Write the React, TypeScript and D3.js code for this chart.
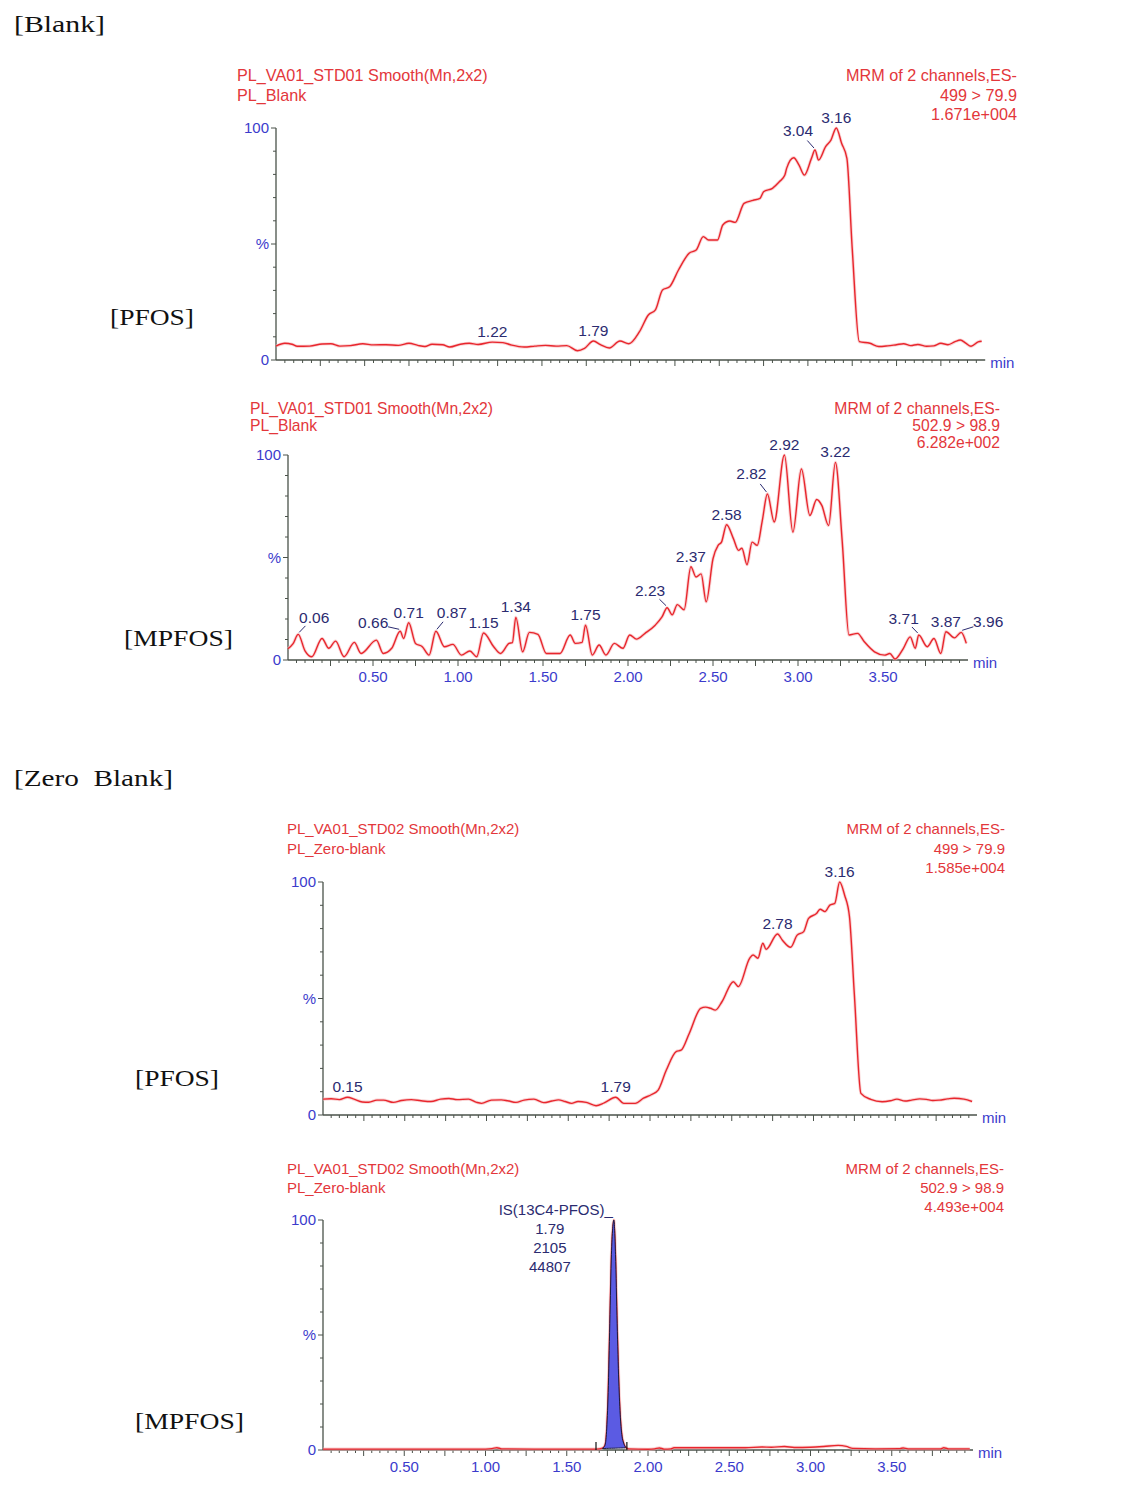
import React from 'react';
import * as d3 from 'd3';

// ---------------- DATA ----------------
// Blank / PFOS (499 > 79.9)
const P1_TIME = [0.00,0.05,0.09,0.12,0.19,0.26,0.31,0.36,0.42,0.49,0.55,0.62,0.69,0.75,0.80,0.84,0.88,0.94,0.98,1.04,1.09,1.14,1.22,1.28,1.33,1.40,1.46,1.52,1.58,1.64,1.70,1.74,1.79,1.83,1.88,1.94,1.99,2.05,2.10,2.14,2.18,2.22,2.27,2.33,2.37,2.41,2.44,2.49,2.52,2.56,2.59,2.64,2.69,2.73,2.75,2.80,2.84,2.87,2.88,2.92,2.95,2.98,3.02,3.04,3.06,3.10,3.13,3.16,3.19,3.22,3.25,3.29,3.35,3.40,3.45,3.50,3.54,3.58,3.62,3.67,3.71,3.75,3.79,3.83,3.86,3.89,3.92,3.96,3.98];
const P1_PCT = [6.0,7.2,6.8,5.9,6.0,6.9,7.0,6.0,6.2,7.0,6.5,6.6,6.3,7.2,6.3,5.8,6.8,6.6,5.6,6.8,7.2,6.7,7.7,7.5,6.4,5.6,6.0,6.3,6.0,6.2,4.0,5.0,8.2,6.6,5.2,8.2,7.0,12.2,19.4,21.6,30.2,31.6,38.8,46.0,47.4,53.2,51.7,51.7,58.2,59.9,59.3,67.5,68.8,69.7,72.5,74.0,76.9,79.7,82.6,87.2,84.0,79.7,86.9,90.5,86.2,92.0,94.8,100,93.4,86.9,48.0,7.9,7.2,5.8,6.1,6.6,7.0,6.2,6.7,5.9,6.1,7.2,6.6,7.9,8.6,7.3,5.9,7.8,8.1];

// Blank / MPFOS (502.9 > 98.9)
const P2_TIME = [0.00,0.03,0.06,0.10,0.14,0.20,0.24,0.28,0.33,0.39,0.43,0.52,0.56,0.61,0.66,0.68,0.71,0.75,0.79,0.83,0.87,0.92,0.97,1.02,1.07,1.11,1.15,1.21,1.25,1.30,1.32,1.34,1.38,1.42,1.47,1.52,1.60,1.66,1.69,1.73,1.75,1.79,1.83,1.87,1.92,1.97,2.01,2.05,2.10,2.16,2.20,2.23,2.26,2.29,2.33,2.37,2.40,2.43,2.46,2.50,2.53,2.55,2.58,2.62,2.65,2.67,2.70,2.73,2.76,2.79,2.82,2.86,2.92,2.97,3.02,3.07,3.11,3.14,3.18,3.22,3.26,3.30,3.35,3.39,3.45,3.51,3.54,3.57,3.62,3.66,3.69,3.71,3.76,3.80,3.84,3.87,3.92,3.96,3.99];
const P2_PCT = [5.5,8.0,12.5,4.5,1.6,10.5,5.7,9.2,1.6,8.6,3.2,9.7,3.2,5.7,14.0,10.5,18.2,8.1,6.5,2.4,14.0,6.5,7.6,2.4,4.4,1.6,13.2,6.5,3.2,8.1,8.5,20.8,4.0,13.5,12.5,3.2,3.2,12.2,8.1,8.6,17.0,2.4,7.3,2.4,8.1,5.7,12.2,10.2,13.0,17.0,21.0,25.5,22.0,27.0,24.5,45.5,40.5,42.0,28.4,49.4,55.9,57.5,66.0,59.2,53.5,54.5,46.5,57.5,55.9,68.0,81.0,67.3,100,62.4,93.2,70.5,78.3,75.4,65.6,96.4,58.0,12.2,13.0,8.9,4.0,2.4,3.2,0.5,5.7,11.3,5.7,12.2,6.5,10.5,3.2,13.8,10.8,13.5,8.1];

// Zero Blank / PFOS (499 > 79.9)
const P3_TIME = [0.00,0.05,0.10,0.15,0.19,0.24,0.28,0.33,0.37,0.43,0.48,0.54,0.60,0.66,0.72,0.77,0.82,0.89,0.94,0.97,1.03,1.09,1.13,1.18,1.23,1.29,1.35,1.40,1.44,1.48,1.52,1.56,1.61,1.67,1.72,1.79,1.84,1.91,1.96,2.01,2.05,2.10,2.16,2.19,2.24,2.31,2.34,2.37,2.40,2.44,2.51,2.54,2.61,2.63,2.66,2.69,2.71,2.78,2.81,2.86,2.90,2.94,2.97,3.02,3.04,3.07,3.10,3.13,3.16,3.19,3.22,3.25,3.29,3.35,3.42,3.47,3.51,3.56,3.60,3.65,3.69,3.73,3.77,3.82,3.86,3.92,3.97];
const P3_PCT = [6.8,7.0,6.6,7.6,6.8,5.6,5.5,6.4,6.4,5.4,6.2,6.6,6.1,5.8,6.8,7.1,6.6,6.8,5.4,5.0,6.4,6.5,6.1,5.4,6.4,6.8,5.3,6.0,6.5,5.8,5.0,5.8,5.4,4.0,5.2,7.6,5.0,5.0,7.2,8.8,10.7,19.3,27.2,27.8,35.0,45.8,46.3,45.8,45.0,48.6,57.2,55.1,67.3,68.7,67.3,73.7,71.1,77.7,75.0,72.0,77.2,78.7,84.4,86.6,88.3,87.3,90.1,90.8,100,94.4,85.1,51.6,9.3,6.7,5.7,6.1,6.8,6.0,6.4,6.9,6.7,6.2,6.4,6.9,7.2,6.8,5.8];

// Zero Blank / MPFOS (502.9 > 98.9) with internal standard peak
const P4_TIME = [0.00,0.50,1.00,1.04,1.07,1.10,1.30,1.68,1.72,1.735,1.745,1.755,1.765,1.775,1.79,1.80,1.81,1.82,1.83,1.84,1.85,1.86,1.88,2.00,2.04,2.07,2.10,2.14,2.16,2.40,2.60,2.70,2.76,2.84,2.90,3.00,3.08,3.17,3.22,3.26,3.40,3.55,3.57,3.60,3.80,3.82,3.85,3.98];
const P4_PCT = [0.4,0.4,0.4,0.6,1.0,0.5,0.4,0.4,0.8,2.0,8.0,25.0,55.0,85.0,100,85.0,55.0,30.0,14.0,6.0,3.0,1.4,0.5,0.3,0.5,0.9,0.4,0.5,1.0,1.0,1.0,1.3,1.2,1.5,1.1,1.2,1.5,2.0,1.6,0.7,0.5,0.6,0.9,0.5,0.5,1.0,0.5,0.5];

const X_TICK_VALUES = [0.5, 1.0, 1.5, 2.0, 2.5, 3.0, 3.5];
const X_TICK_LABELS = ['0.50', '1.00', '1.50', '2.00', '2.50', '3.00', '3.50'];
const Y_TICK_VALUES = [0, 50, 100];
const Y_TICK_LABELS = ['0', '%', '100'];

const P1_HEADER_LEFT = ['PL_VA01_STD01 Smooth(Mn,2x2)', 'PL_Blank'];
const P1_HEADER_RIGHT = ['MRM of 2 channels,ES-', '499 > 79.9', '1.671e+004'];
const P2_HEADER_LEFT = ['PL_VA01_STD01 Smooth(Mn,2x2)', 'PL_Blank'];
const P2_HEADER_RIGHT = ['MRM of 2 channels,ES-', '502.9 > 98.9', '6.282e+002'];
const P3_HEADER_LEFT = ['PL_VA01_STD02 Smooth(Mn,2x2)', 'PL_Zero-blank'];
const P3_HEADER_RIGHT = ['MRM of 2 channels,ES-', '499 > 79.9', '1.585e+004'];
const P4_HEADER_LEFT = ['PL_VA01_STD02 Smooth(Mn,2x2)', 'PL_Zero-blank'];
const P4_HEADER_RIGHT = ['MRM of 2 channels,ES-', '502.9 > 98.9', '4.493e+004'];

const P1_PEAKS = ['1.22', '1.79', '3.04', '3.16'];
const P2_PEAKS = ['0.06', '0.66', '0.71', '0.87', '1.15', '1.34', '1.75', '2.23', '2.37', '2.58', '2.82', '2.92', '3.22', '3.71', '3.87', '3.96'];
const P3_PEAKS = ['0.15', '1.79', '2.78', '3.16'];

const IS_LINES = ['IS(13C4-PFOS)_', '1.79', '2105', '44807'];
const IS_START = 1.70;
const IS_END = 1.87;
const IS_APEX = 1.79;

const SECTION_LABELS = ['[Blank]', '[PFOS]', '[MPFOS]', '[Zero  Blank]', '[PFOS]', '[MPFOS]'];

// ---------------- LAYOUT / STYLE ----------------
const RED_TEXT = '#e3373b';
const RED_LINE = '#e8262d';
const BLUE = '#3b3bcc';
const NAVY = '#2b2b70';
const AXIS = '#4a524a';
const SANS = '"Liberation Sans", Arial, sans-serif';
const SERIF = '"Liberation Serif", "DejaVu Serif", serif';

const SECTION_POS = [
  { x: 14, y: 32, w: 91 },
  { x: 110, y: 325, w: 84 },
  { x: 124, y: 646, w: 109 },
  { x: 14, y: 786, w: 159 },
  { x: 135, y: 1086, w: 84 },
  { x: 135, y: 1429, w: 109 },
];

// leader offsets (label centre relative to peak apex)
const LEADERS: Record<string, [number, number]> = {
  '0:3.04': [-17, -19],
  '1:0.06': [16, -17],
  '1:0.66': [-27, -9],
  '1:0.87': [16, -19],
  '1:2.23': [-17, -17],
  '1:2.82': [-16, -20],
  '1:3.71': [-15, -16],
  '1:3.96': [27, -11],
};

const PANELS = [
  { time: P1_TIME, pct: P1_PCT, hl: P1_HEADER_LEFT, hr: P1_HEADER_RIGHT, peaks: P1_PEAKS,
    x0: 276, ppm: 177.3, y0: 360, y100: 128, hx: 237, rx: 1017, hy: 81, gap: 19.5, fs: 16.2, xlabels: false },
  { time: P2_TIME, pct: P2_PCT, hl: P2_HEADER_LEFT, hr: P2_HEADER_RIGHT, peaks: P2_PEAKS,
    x0: 288, ppm: 170, y0: 660, y100: 455, hx: 250, rx: 1000, hy: 414, gap: 17, fs: 15.7, xlabels: true },
  { time: P3_TIME, pct: P3_PCT, hl: P3_HEADER_LEFT, hr: P3_HEADER_RIGHT, peaks: P3_PEAKS,
    x0: 323, ppm: 163.5, y0: 1115, y100: 882, hx: 287, rx: 1005, hy: 834, gap: 19.5, fs: 15, xlabels: false },
  { time: P4_TIME, pct: P4_PCT, hl: P4_HEADER_LEFT, hr: P4_HEADER_RIGHT, peaks: [] as string[],
    x0: 323, ppm: 162.5, y0: 1450, y100: 1220, hx: 287, rx: 1004, hy: 1174, gap: 19, fs: 15, xlabels: true, is: true },
];

function interp(ts: number[], vs: number[], t: number) {
  const i = d3.bisectLeft(ts, t);
  if (i <= 0) return vs[0];
  if (i >= ts.length) return vs[vs.length - 1];
  const t0 = ts[i - 1], t1 = ts[i];
  return vs[i - 1] + (vs[i] - vs[i - 1]) * (t - t0) / (t1 - t0);
}

function Panel({ cfg, idx }: { cfg: any; idx: number }) {
  const x = d3.scaleLinear().domain([0, 4]).range([cfg.x0, cfg.x0 + 4 * cfg.ppm]);
  const y = d3.scaleLinear().domain([0, 100]).range([cfg.y0, cfg.y100]);
  const pts: [number, number][] = cfg.time.map((t: number, i: number) => [t, cfg.pct[i]]);
  const line = d3.line<[number, number]>().x(d => x(d[0])).y(d => y(d[1])).curve(d3.curveMonotoneX);

  const minorX = d3.range(1, 80).map(i => i);
  const minorY = d3.range(0, 11).map(i => i * 10);

  let isEls: any = null;
  if (cfg.is) {
    const peakPts = pts.filter(p => p[0] >= IS_START && p[0] <= IS_END);
    const area = d3.area<[number, number]>()
      .x(d => x(d[0]))
      .y0(d => y(interp([IS_START, IS_END], [interp(cfg.time, cfg.pct, IS_START), interp(cfg.time, cfg.pct, IS_END)], d[0])))
      .y1(d => y(d[1]))
      .curve(d3.curveMonotoneX);
    const ax = x(IS_APEX), ay = y(interp(cfg.time, cfg.pct, IS_APEX));
    isEls = (
      <g>
        <path d={area(peakPts) || ''} fill="#5b5be3" stroke="#1c1c3c" strokeWidth={1} />
        <line x1={x(IS_START - 0.02)} x2={x(IS_START - 0.02)} y1={y(0)} y2={y(0) - 8} stroke="#111" strokeWidth={1.2} />
        <line x1={x(IS_END)} x2={x(IS_END)} y1={y(0)} y2={y(0) - 8} stroke="#111" strokeWidth={1.2} />
        {IS_LINES.map((s, i) => (
          <text key={i} x={i === 0 ? ax - 1 : ax - 64} y={ay - 5 + i * 19} fontSize={15} fill={NAVY}
            textAnchor={i === 0 ? 'end' : 'middle'} fontFamily={SANS}>{s}</text>
        ))}
      </g>
    );
  }

  return (
    <g>
      {cfg.hl.map((s: string, i: number) => (
        <text key={'hl' + i} x={cfg.hx} y={cfg.hy + i * cfg.gap} fontSize={cfg.fs} fill={RED_TEXT} fontFamily={SANS}>{s}</text>
      ))}
      {cfg.hr.map((s: string, i: number) => (
        <text key={'hr' + i} x={cfg.rx} y={cfg.hy + i * cfg.gap} fontSize={cfg.fs} fill={RED_TEXT} fontFamily={SANS} textAnchor="end">{s}</text>
      ))}
      {/* axes */}
      <line x1={cfg.x0} x2={cfg.x0} y1={y(0)} y2={y(100)} stroke={AXIS} strokeWidth={1.3} />
      <line x1={cfg.x0} x2={x(4)} y1={y(0)} y2={y(0)} stroke={AXIS} strokeWidth={1.3} />
      {minorY.map(v => (
        <line key={'yt' + v} x1={cfg.x0} x2={cfg.x0 - (v % 50 === 0 ? 5 : 3)} y1={y(v)} y2={y(v)} stroke={AXIS} strokeWidth={1} />
      ))}
      {minorX.map(i => (
        <line key={'xt' + i} x1={x(i * 0.05)} x2={x(i * 0.05)} y1={y(0)} y2={y(0) + (i % 5 === 0 ? 6 : 3)} stroke={AXIS} strokeWidth={1} />
      ))}
      {Y_TICK_VALUES.map((v, i) => (
        <text key={'yl' + i} x={cfg.x0 - 7} y={y(v)} dy="0.35em" fontSize={15} fill={BLUE} textAnchor="end" fontFamily={SANS}>{Y_TICK_LABELS[i]}</text>
      ))}
      {cfg.xlabels && X_TICK_VALUES.map((v, i) => (
        <text key={'xl' + i} x={x(v)} y={y(0) + 22} fontSize={15} fill={BLUE} textAnchor="middle" fontFamily={SANS}>{X_TICK_LABELS[i]}</text>
      ))}
      <text x={x(4) + 5} y={y(0) + 8} fontSize={15} fill={BLUE} fontFamily={SANS}>min</text>
      {/* trace with soft halo */}
      <path d={line(pts) || ''} fill="none" stroke="#f5b5b8" strokeOpacity={0.6} strokeWidth={3.2} strokeLinejoin="round" />
      <path d={line(pts) || ''} fill="none" stroke={RED_LINE} strokeWidth={1.4} strokeLinejoin="round" />
      {isEls}
      {/* peak labels */}
      {cfg.peaks.map((lab: string) => {
        const t = +lab;
        const px = x(t), py = y(interp(cfg.time, cfg.pct, t));
        const off = LEADERS[idx + ':' + lab];
        if (off) {
          const cx = px + off[0], cy = py + off[1];
          const lx = px + off[0] * 0.45, ly = py + off[1] * 0.5;
          return (
            <g key={lab}>
              <line x1={px + Math.sign(off[0]) * 1} y1={py - 2} x2={lx} y2={ly} stroke={NAVY} strokeWidth={1} />
              <text x={cx} y={cy} dy="0.35em" fontSize={15.5} fill={NAVY} textAnchor="middle" fontFamily={SANS}>{lab}</text>
            </g>
          );
        }
        return (
          <text key={lab} x={px} y={py - 5} fontSize={15.5} fill={NAVY} textAnchor="middle" fontFamily={SANS}>{lab}</text>
        );
      })}
    </g>
  );
}

export default function App() {
  return (
    <svg width={1134} height={1495} style={{ position: 'absolute', left: 0, top: 0, background: '#fff' }}>
      <rect x={0} y={0} width={1134} height={1495} fill="#fff" />
      {SECTION_LABELS.map((s, i) => (
        <text key={'s' + i} x={SECTION_POS[i].x} y={SECTION_POS[i].y} fontSize={24} fill="#111" fontFamily={SERIF}
          textLength={SECTION_POS[i].w} lengthAdjust="spacingAndGlyphs" style={{ whiteSpace: 'pre' }}>{s}</text>
      ))}
      {PANELS.map((p, i) => <Panel key={i} cfg={p} idx={i} />)}
    </svg>
  );
}
